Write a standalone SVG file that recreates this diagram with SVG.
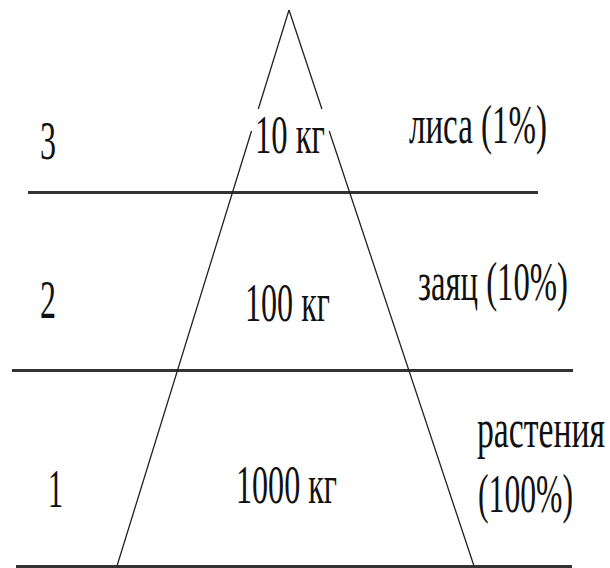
<svg xmlns="http://www.w3.org/2000/svg" width="610" height="568" viewBox="0 0 610 568">
<style>
.t{font-family:"Liberation Serif","Times New Roman",serif;font-size:54px;fill:#111;}
.h{stroke:#333;stroke-width:3;fill:none;}
.s{stroke:#222;stroke-width:1.3;fill:none;}
</style>
<rect width="610" height="568" fill="#fff"/>
<g id="connectors">
<line class="h" x1="28" y1="192.5" x2="538" y2="192.5"/>
<line class="h" x1="12" y1="370.5" x2="573" y2="370.5"/>
<line class="h" x1="16" y1="566.5" x2="572" y2="566.5"/>
<path class="s" d="M289,10 L258.3,109 M251.5,131 L117,566"/>
<path class="s" d="M289,10 L321.9,109 M329.2,131 L474,566"/>
</g>
<g id="level3">
<text class="t" x="40" y="159" textLength="16" lengthAdjust="spacingAndGlyphs">3</text>
<text class="t" x="255" y="153" textLength="70" lengthAdjust="spacingAndGlyphs">10 кг</text>
<text class="t" x="409" y="143" textLength="138" lengthAdjust="spacingAndGlyphs">лиса (1%)</text>
</g>
<g id="level2">
<text class="t" x="40" y="318" textLength="16" lengthAdjust="spacingAndGlyphs">2</text>
<text class="t" x="245" y="321" textLength="85" lengthAdjust="spacingAndGlyphs">100 кг</text>
<text class="t" x="418" y="300" textLength="150" lengthAdjust="spacingAndGlyphs">заяц (10%)</text>
</g>
<g id="level1">
<text class="t" x="48" y="507" textLength="15" lengthAdjust="spacingAndGlyphs">1</text>
<text class="t" x="236" y="503" textLength="101" lengthAdjust="spacingAndGlyphs">1000 кг</text>
<text class="t" x="477" y="447" textLength="128" lengthAdjust="spacingAndGlyphs">растения</text>
<text class="t" x="478" y="512" textLength="95" lengthAdjust="spacingAndGlyphs">(100%)</text>
</g>
</svg>
